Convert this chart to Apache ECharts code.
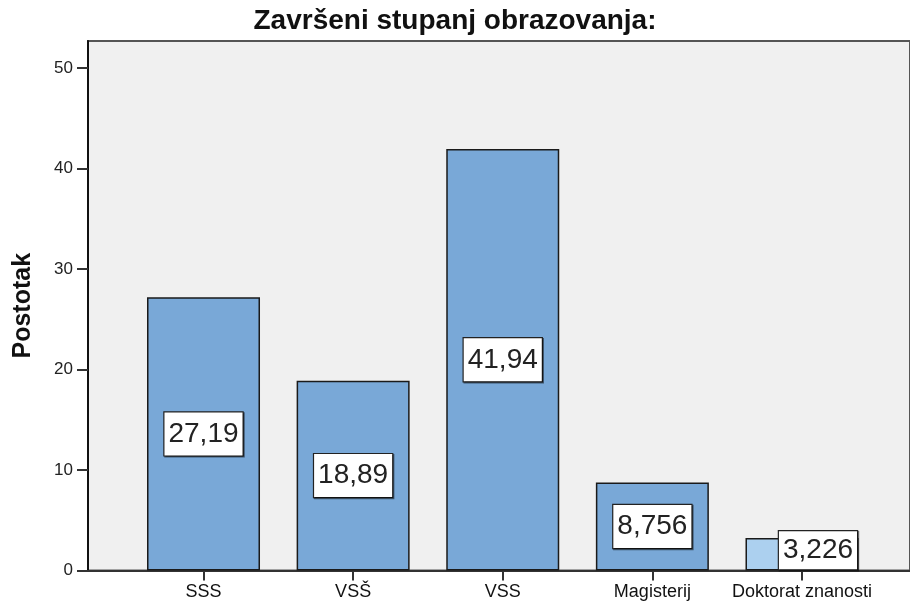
<!DOCTYPE html>
<html>
<head>
<meta charset="utf-8">
<script src="https://cdn.jsdelivr.net/npm/echarts@6/dist/echarts.min.js"></script>
<style>html,body{margin:0;padding:0;background:#fff;}#c{width:910px;height:606px;}</style>
</head>
<body>
<div id="c"></div>
<script>
var categories = ['SSS', 'VSŠ', 'VSS', 'Magisterij', 'Doktorat znanosti'];
var values = [27.19, 18.89, 41.94, 8.756, 3.226];
var yTicks = [0, 10, 20, 30, 40, 50];

var FONT = '"Liberation Sans", Arial, sans-serif';
var BAR = '#79a8d7';
var BAR_LIGHT = '#acd0ef';

var barData = values.map(function (v, i) {
  var item = { value: v };
  if (i === values.length - 1) {
    item.itemStyle = { color: BAR_LIGHT };
    item.label = { offset: [16, -4], padding: [6, 4, 4, 4] };
  }
  return item;
});

var chart = echarts.init(document.getElementById('c'), null, { renderer: 'canvas' });
var yMax = 52.7;
chart.setOption({
  animation: false,
  backgroundColor: '#fff',
  title: {
    text: 'Završeni stupanj obrazovanja:',
    left: 'center',
    top: 2,
    textStyle: { fontFamily: FONT, fontSize: 28, fontWeight: 'bold', color: '#111' }
  },
  grid: [
    { left: 88, right: -6, top: 41, bottom: 35.5, show: true, backgroundColor: '#f0f0f0', borderColor: '#555', borderWidth: 2 },
    { left: 128.7, right: 33.2, top: 41, bottom: 35.5 }
  ],
  xAxis: [
    {
      gridIndex: 0, type: 'value', min: 0, max: 1,
      axisLine: { show: true, lineStyle: { color: '#333', width: 2 } },
      axisTick: { show: false }, axisLabel: { show: false }, splitLine: { show: false }
    },
    {
      gridIndex: 1, type: 'category', data: categories,
      axisLine: { show: false },
      axisTick: { show: true, alignWithLabel: true, length: 10, lineStyle: { color: '#333', width: 2 } },
      axisLabel: { interval: 0, fontFamily: FONT, fontSize: 18, color: '#111', margin: 13 }
    }
  ],
  yAxis: [
    {
      gridIndex: 0, type: 'value', min: yTicks[0], max: yMax, interval: 10,
      name: 'Postotak', nameLocation: 'middle', nameRotate: 90, nameGap: 52,
      nameTextStyle: { fontFamily: FONT, fontSize: 25, fontWeight: 'bold', color: '#111' },
      axisLine: { show: true, lineStyle: { color: '#111', width: 2 } },
      axisTick: { show: true, inside: false, length: 11, lineStyle: { color: '#333', width: 2 } },
      axisLabel: { fontFamily: FONT, fontSize: 17, color: '#222', margin: 15, showMaxLabel: false,
        formatter: function (v) { return yTicks.indexOf(v) >= 0 ? String(v) : ''; } },
      splitLine: { show: false }
    },
    { gridIndex: 1, type: 'value', min: 0, max: yMax, show: false }
  ],
  series: [{
    type: 'bar',
    xAxisIndex: 1, yAxisIndex: 1,
    data: barData,
    barWidth: 113,
    itemStyle: { color: BAR, borderColor: '#1a1a1a', borderWidth: 1.5 },
    label: {
      show: true, position: 'inside',
      formatter: function (p) { return String(p.value).replace('.', ','); },
      fontFamily: FONT, fontSize: 28, color: '#222',
      backgroundColor: '#fff', borderColor: '#222', borderWidth: 1.2,
      padding: [9, 4, 6, 4],
      shadowColor: 'rgba(0,0,0,0.5)', shadowOffsetX: 1, shadowOffsetY: 1, shadowBlur: 0
    }
  }]
});
</script>
</body>
</html>
